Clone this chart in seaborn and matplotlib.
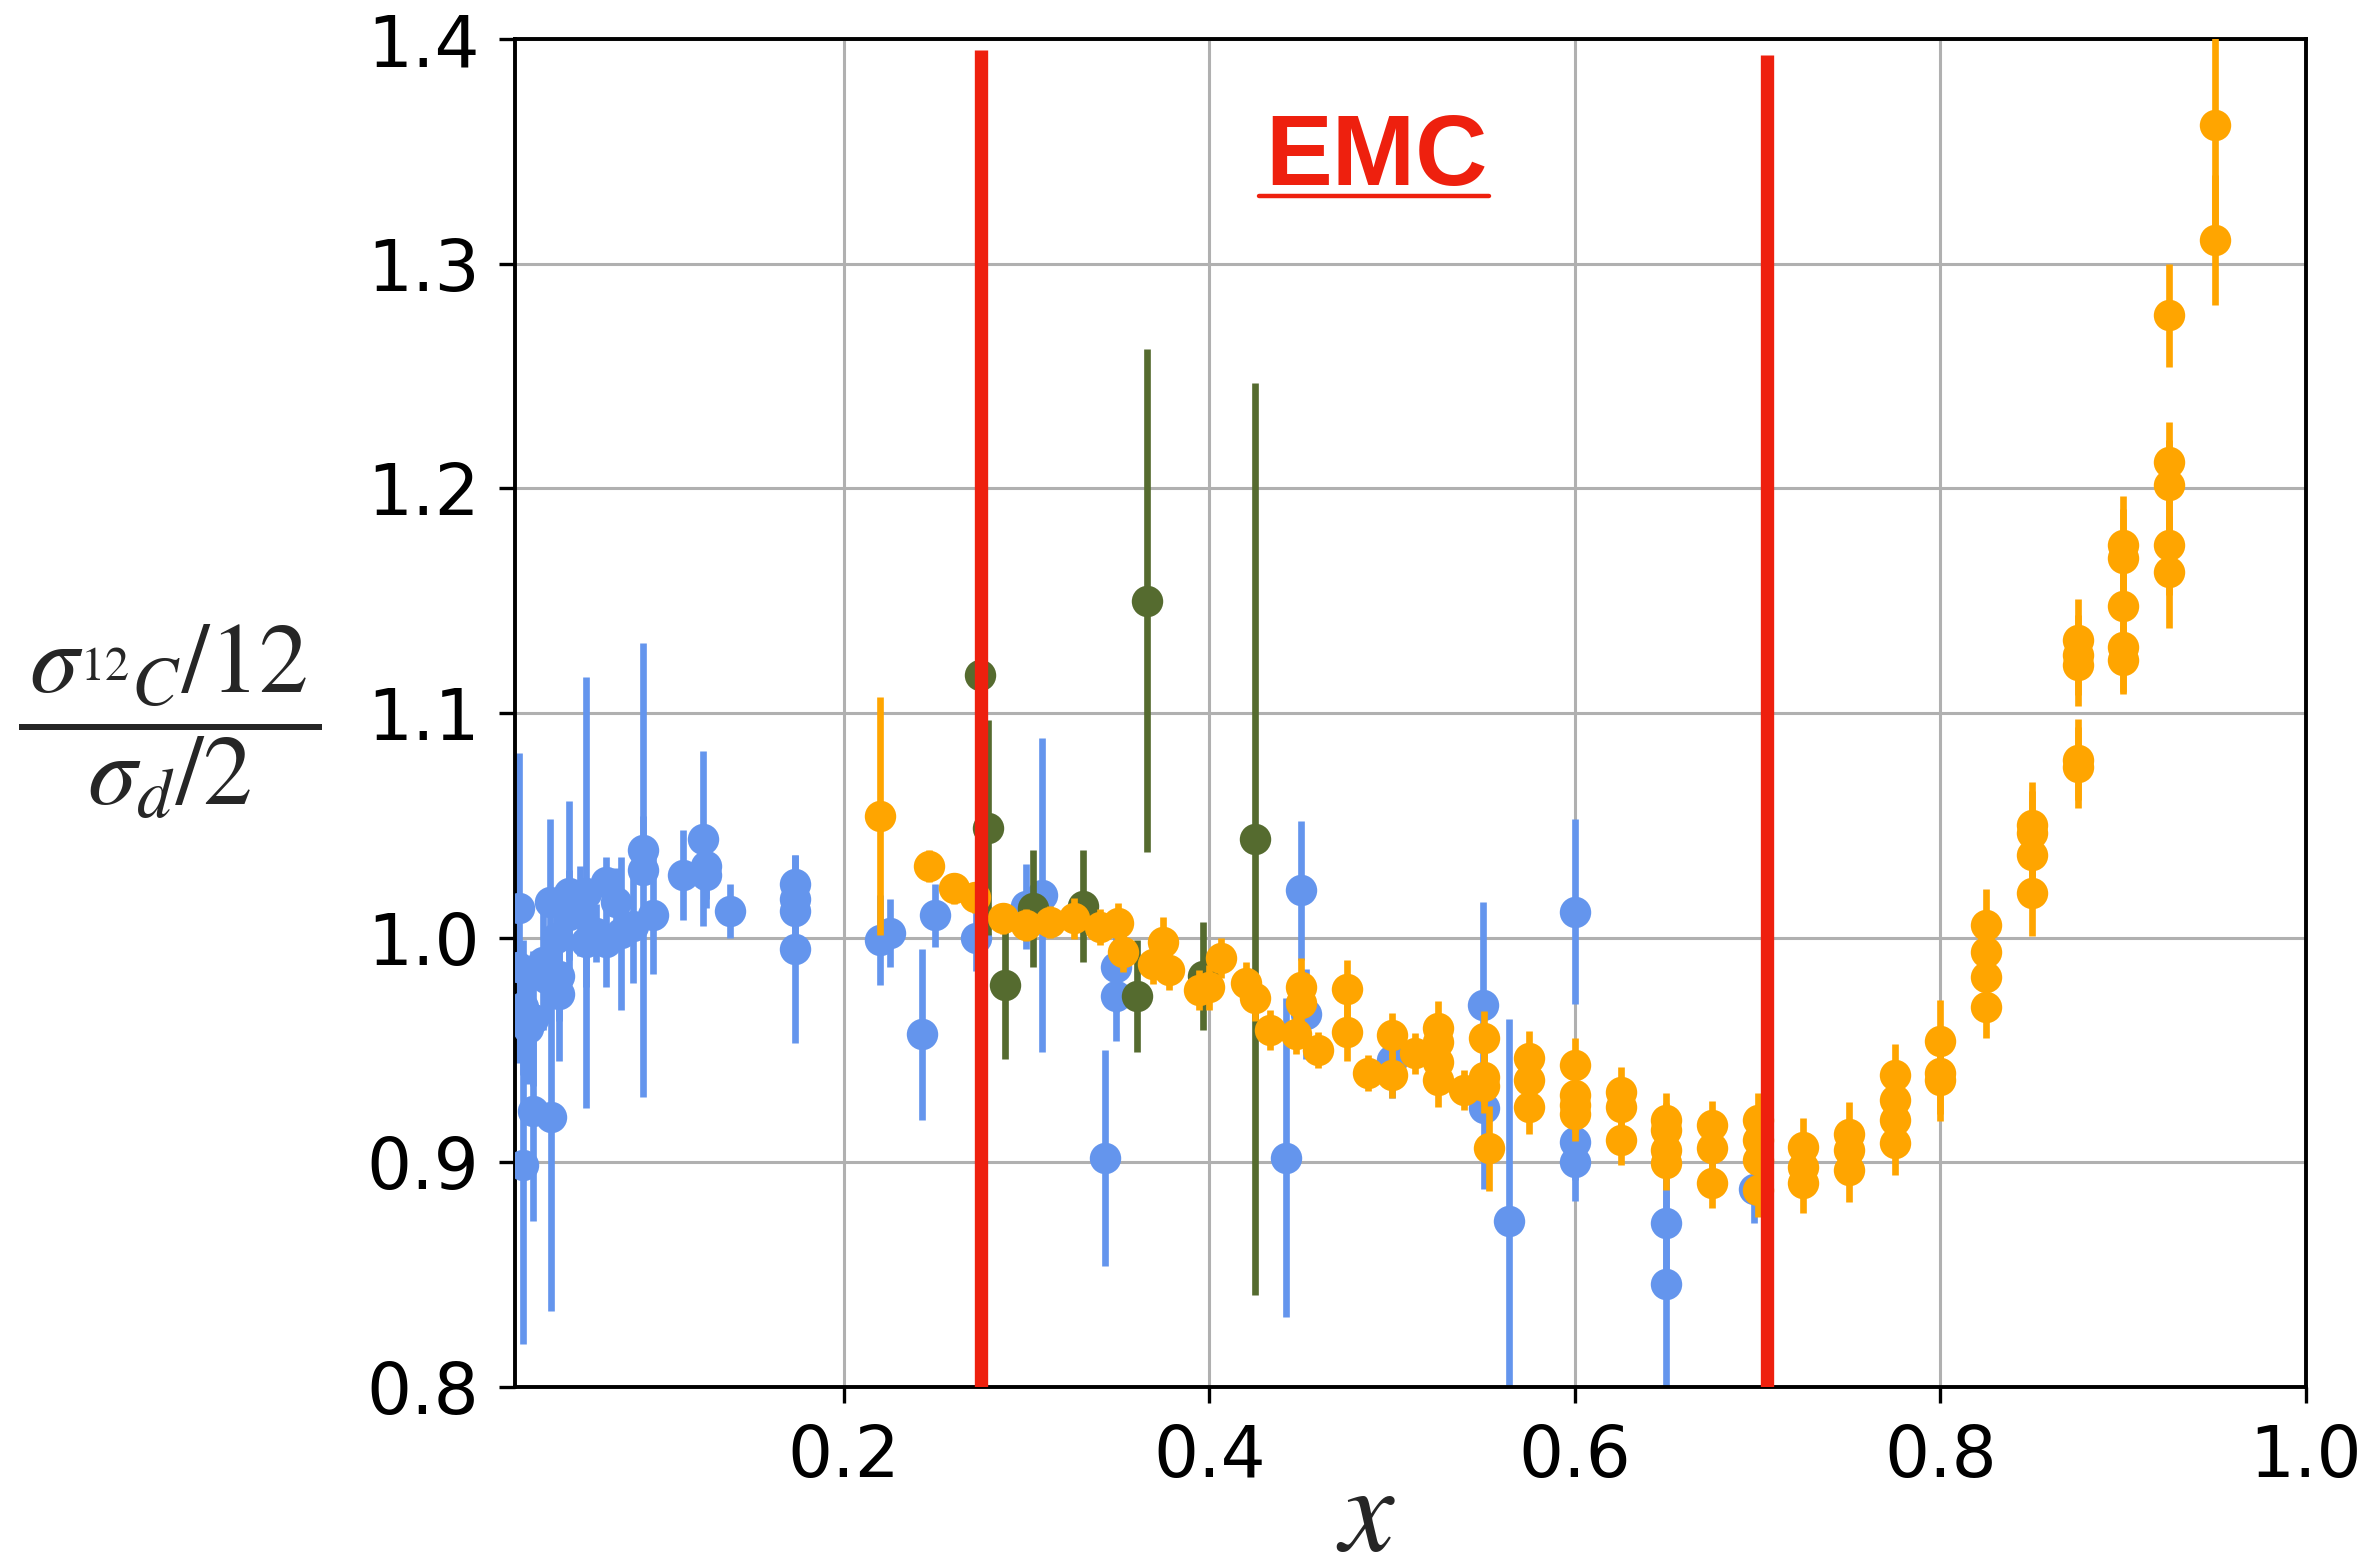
import numpy as np
import pandas as pd
import matplotlib
matplotlib.use("Agg")
import matplotlib.pyplot as plt
import seaborn as sns
from matplotlib.lines import Line2D
from matplotlib.transforms import IdentityTransform

# ---- data: x, ratio, uncertainty -------------------------------------------
blue_x = [0.0224, 0.0215, 0.0243, 0.0270, 0.0297, 0.0243, 0.0297, 0.0398, 0.0352,
          0.0389, 0.0370, 0.0443, 0.0443, 0.0425, 0.0498, 0.0498, 0.0589, 0.0589,
          0.0553, 0.0644, 0.0699, 0.0699, 0.0781, 0.0754, 0.0845, 0.0899, 0.0899,
          0.0954, 0.1118, 0.1228, 0.1246, 0.1246, 0.1374, 0.173, 0.173, 0.173,
          0.173, 0.2195, 0.225, 0.2428, 0.2497, 0.2722, 0.2996, 0.3085, 0.3426,
          0.349, 0.349, 0.442, 0.4503, 0.453, 0.500, 0.5495, 0.550, 0.564, 0.600,
          0.600, 0.600, 0.650, 0.650, 0.698]
blue_y = [1.013, 0.987, 0.969, 0.960, 0.964, 0.899, 0.923, 0.920, 0.989,
          1.016, 0.982, 0.975, 0.983, 1.000, 1.020, 1.010, 1.020, 0.998,
          1.012, 1.002, 1.025, 0.998, 1.002, 1.016, 1.005, 1.030, 1.039,
          1.010, 1.028, 1.044, 1.032, 1.028, 1.012, 1.024, 1.017, 1.012,
          0.995, 0.999, 1.002, 0.957, 1.010, 1.000, 1.014, 1.019, 0.902,
          0.987, 0.974, 0.902, 1.021, 0.966, 0.9455, 0.970, 0.924, 0.874, 1.0116,
          0.909, 0.900, 0.873, 0.846, 0.888]
blue_err = [0.069, 0.030, 0.030, 0.025, 0.030, 0.080, 0.049, 0.086, 0.030,
            0.037, 0.020, 0.030, 0.020, 0.020, 0.041, 0.020, 0.096, 0.020,
            0.020, 0.013, 0.011, 0.020, 0.034, 0.015, 0.025, 0.101, 0.015,
            0.026, 0.020, 0.039, 0.015, 0.015, 0.012, 0.013, 0.013, 0.013,
            0.042, 0.020, 0.015, 0.038, 0.014, 0.015, 0.019, 0.070, 0.048,
            0.020, 0.020, 0.071, 0.031, 0.020, 0.017, 0.046, 0.036, 0.090, 0.041,
            0.017, 0.017, 0.030, 0.070, 0.015]

green_x = [0.2742, 0.2788, 0.2879, 0.3034, 0.3308, 0.3606, 0.366, 0.3965, 0.4247]
green_y = [1.117, 1.049, 0.979, 1.013, 1.014, 0.974, 1.150, 0.983, 1.044]
green_err = [0.060, 0.048, 0.033, 0.026, 0.025, 0.025, 0.112, 0.024, 0.203]

orange_x = [0.2199, 0.2466, 0.260, 0.2715, 0.287, 0.2998, 0.3125, 0.326, 0.340,
            0.350, 0.3528, 0.3745, 0.369, 0.378, 0.394, 0.400, 0.4065, 0.420,
            0.4247, 0.433, 0.4476, 0.450, 0.450, 0.4594, 0.475, 0.475, 0.4868,
            0.500, 0.500, 0.5123, 0.525, 0.525, 0.525, 0.525, 0.5395, 0.550,
            0.550, 0.550, 0.5528, 0.575, 0.575, 0.575, 0.600, 0.600, 0.600,
            0.600, 0.625, 0.625, 0.625, 0.650, 0.650, 0.650, 0.650, 0.675,
            0.675, 0.675, 0.700, 0.700, 0.700, 0.700, 0.725, 0.725, 0.725,
            0.750, 0.750, 0.750, 0.775, 0.775, 0.775, 0.775, 0.800, 0.800,
            0.800, 0.825, 0.825, 0.825, 0.825, 0.850, 0.850, 0.850, 0.850,
            0.875, 0.875, 0.875, 0.875, 0.875, 0.900, 0.900, 0.900, 0.900,
            0.900, 0.925, 0.925, 0.925, 0.925, 0.925, 0.950, 0.950]
orange_y = [1.054, 1.032, 1.022, 1.018, 1.0086, 1.0056, 1.007, 1.0086, 1.0049,
            1.0064, 0.9937, 0.998, 0.9885, 0.9855, 0.9767, 0.978, 0.991, 0.980,
            0.973, 0.959, 0.957, 0.978, 0.971, 0.950, 0.977, 0.958, 0.9396,
            0.9566, 0.9388, 0.9485, 0.9596, 0.9537, 0.9448, 0.9366, 0.9321, 0.9552,
            0.938, 0.934, 0.9062, 0.9463, 0.9366, 0.9247, 0.9433, 0.9299, 0.9254,
            0.9217, 0.9314, 0.9247, 0.9099, 0.9188, 0.9143, 0.9054, 0.8995, 0.9165,
            0.9062, 0.8906, 0.9188, 0.9099, 0.9010, 0.8876, 0.9069, 0.8980, 0.8906,
            0.9128, 0.9054, 0.8965, 0.9388, 0.9277, 0.9188, 0.9084, 0.9541, 0.9396,
            0.9366, 1.0056, 0.9937, 0.9826, 0.9692, 1.0501, 1.0464, 1.0368, 1.0197,
            1.1327, 1.1258, 1.1213, 1.0793, 1.0759, 1.1747, 1.169, 1.1475, 1.1293,
            1.1236, 1.277, 1.2115, 1.2013, 1.1747, 1.1629, 1.3615, 1.3104]
orange_err = [0.053, 0.007, 0.007, 0.007, 0.007, 0.007, 0.007, 0.009, 0.008,
              0.009, 0.009, 0.011, 0.009, 0.009, 0.009, 0.010, 0.009, 0.009,
              0.010, 0.009, 0.009, 0.013, 0.013, 0.008, 0.013, 0.013, 0.008,
              0.010, 0.010, 0.009, 0.012, 0.012, 0.012, 0.012, 0.009, 0.012,
              0.012, 0.012, 0.019, 0.012, 0.012, 0.012, 0.012, 0.012, 0.012,
              0.012, 0.011, 0.011, 0.011, 0.012, 0.012, 0.012, 0.012, 0.011,
              0.011, 0.011, 0.012, 0.012, 0.012, 0.012, 0.013, 0.013, 0.013,
              0.014, 0.014, 0.014, 0.014, 0.014, 0.014, 0.014, 0.018, 0.018,
              0.018, 0.016, 0.016, 0.016, 0.014, 0.019, 0.019, 0.019, 0.019,
              0.018, 0.018, 0.018, 0.018, 0.018, 0.022, 0.022, 0.020, 0.020,
              0.015, 0.023, 0.018, 0.020, 0.022, 0.025, 0.045, 0.029]

# EMC region boundaries and the upper end of each marker line
emc_bounds = [0.2751, 0.7048]
emc_tops = [1.395, 1.393]

x_ticks = [0.2, 0.4, 0.6, 0.8, 1.0]
y_ticks = [0.8, 0.9, 1.0, 1.1, 1.2, 1.3, 1.4]

# ---- style -----------------------------------------------------------------
sns.set_style("ticks")
plt.rcParams["font.family"] = ["DejaVu Sans"]
plt.rcParams["mathtext.fontset"] = "stix"

DPI = 200
fig = plt.figure(figsize=(2377 / DPI, 1567 / DPI), dpi=DPI)
ax = fig.add_axes([515 / 2377, 1 - 1387 / 1567, (2306 - 515) / 2377, (1387 - 39) / 1567])

series = [
    (blue_x, blue_y, blue_err, "cornflowerblue", 2),
    (green_x, green_y, green_err, "darkolivegreen", 4),
    (orange_x, orange_y, orange_err, "orange", 6),
]
for xs, ys, es, col, z in series:
    df = pd.DataFrame({"x": xs, "y": ys, "err": es})
    ax.errorbar(df["x"], df["y"], yerr=df["err"], fmt="none", ecolor=col,
                elinewidth=2.4, capsize=0, zorder=z)
    sns.scatterplot(data=df, x="x", y="y", color=col, s=128, linewidth=0,
                    ax=ax, zorder=z + 1, legend=False)

red = "#EE200E"
ax.vlines(emc_bounds, 0.8, emc_tops, colors=red, linewidth=4.8, zorder=10)

emc_x, emc_y = 0.4912, 1.3352
emc = ax.text(emc_x, emc_y, "EMC", color=red, fontsize=36, fontweight="bold",
              family=["Liberation Sans", "DejaVu Sans"], ha="center", va="baseline",
              zorder=11)

# axes, ticks, grid
ax.set_xlim(0.02, 1.0)
ax.set_ylim(0.8, 1.4)
ax.set_xticks(x_ticks)
ax.set_yticks(y_ticks)
ax.set_xticklabels([f"{t:.1f}" for t in x_ticks])
ax.set_yticklabels([f"{t:.1f}" for t in y_ticks])
ax.tick_params(axis="both", labelsize=25.5, length=5.8, width=1.2, pad=7, colors="black")
ax.set_axisbelow(True)
ax.grid(True, color="#b0b0b0", linewidth=1.1)
for sp in ax.spines.values():
    sp.set_visible(True)
    sp.set_linewidth(1.4)
    sp.set_color("black")

ax.set_xlabel(r"$x$", fontsize=44, va="center")
ax.xaxis.set_label_coords(0.475, -0.096)
ax.set_ylabel(r"$\dfrac{\,\sigma_{^{12}C}/12\,}{\sigma_d/2}$", fontsize=35.5, rotation=0,
              ha="center", va="center")
ax.yaxis.set_label_coords(-0.1926, 0.493)

# underline beneath the EMC label
fig.canvas.draw()
renderer = fig.canvas.get_renderer()
bb = emc.get_window_extent(renderer)
base = ax.transData.transform((emc_x, emc_y))[1]
fig.add_artist(Line2D([bb.x0 - 6, bb.x1 + 2], [base - 11, base - 11], color=red,
                      linewidth=1.6, transform=IdentityTransform()))

fig.savefig("out.png", dpi=DPI)
